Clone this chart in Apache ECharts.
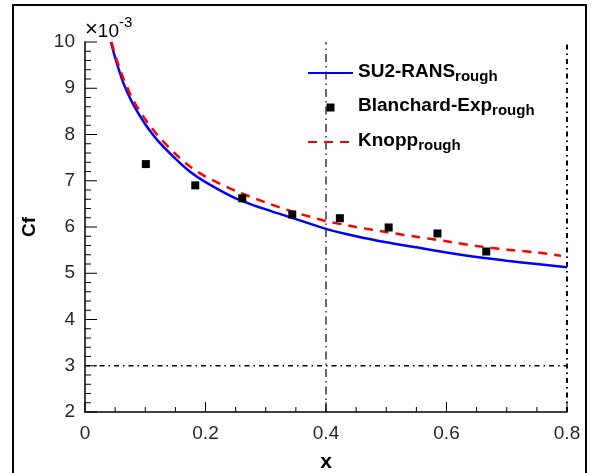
<!DOCTYPE html>
<html><head><meta charset="utf-8">
<script src="https://cdn.jsdelivr.net/npm/echarts@6/dist/echarts.min.js"></script>
<style>html,body{margin:0;padding:0;background:#fff}#c{width:594px;height:473px}</style>
</head><body><div id="c"></div>
<script>
// SU2-RANS rough (x, Cf*1e3)
const su2X = [0.043,0.05,0.057,0.065,0.08,0.1,0.12,0.15,0.175,0.2,0.25,0.3,0.35,0.4,0.45,0.5,0.55,0.6,0.65,0.7,0.75,0.8];
const su2Y = [10.0,9.66,9.37,9.07,8.65,8.22,7.88,7.48,7.19,6.97,6.62,6.38,6.17,5.96,5.80,5.67,5.56,5.45,5.35,5.27,5.20,5.13];
// Knopp rough
const knoppX = [0.044,0.05,0.057,0.065,0.08,0.1,0.12,0.15,0.175,0.2,0.25,0.3,0.35,0.4,0.45,0.5,0.55,0.6,0.65,0.7,0.75,0.79];
const knoppY = [10.0,9.72,9.45,9.17,8.74,8.33,7.99,7.58,7.30,7.09,6.78,6.53,6.31,6.13,6.00,5.89,5.79,5.69,5.59,5.51,5.45,5.38];
// Blanchard experiment rough
const expX = [0.101,0.183,0.261,0.344,0.423,0.504,0.585,0.666];
const expY = [7.36,6.90,6.62,6.27,6.19,5.99,5.86,5.47];
// reference lines
const hRefX = [0, 0.8], hRefY = [3, 3];
const vRefX = [0.4, 0.4], vRefY = [2, 10];
const rRefX = [0.8, 0.8], rRefY = [2, 10];
const xTicks = [0, 0.2, 0.4, 0.6, 0.8];
const yTicks = [2, 3, 4, 5, 6, 7, 8, 9, 10];
const xMinorSplit = 4, yMinorSplit = 5;

const zip = (a, b) => a.map((v, i) => [v, b[i]]);
const font = 'Liberation Sans, Arial, sans-serif';
const xMin = xTicks[0], xMax = xTicks[xTicks.length - 1];
const yMin = yTicks[0], yMax = yTicks[yTicks.length - 1];
const minors = (t, n) => { const out = []; for (let i = 0; i < t.length - 1; i++) for (let k = 1; k < n; k++) out.push(t[i] + (t[i + 1] - t[i]) * k / n); return out; };

// inward-pointing tick marks placed through the axes' own scales
const tickSeries = (vals, isX, len) => ({
  type: 'custom', silent: true, clip: false, z: 5,
  data: vals.map(v => isX ? [v, yMin] : [xMin, v]),
  renderItem: (params, api) => {
    const p = api.coord([api.value(0), api.value(1)]);
    return {type: 'line', shape: isX ? {x1: p[0], y1: p[1], x2: p[0], y2: p[1] - len} : {x1: p[0], y1: p[1], x2: p[0] + len, y2: p[1]},
      style: {stroke: '#000', lineWidth: 1}};
  }
});

const chart = echarts.init(document.getElementById('c'), null, {renderer: 'canvas'});
const legendFmt = {
  'SU2-RANS': '{m|SU2-RANS}{s|rough}',
  'Blanchard-Exp': '{m|Blanchard-Exp}{s|rough}',
  'Knopp': '{m|Knopp}{s|rough}'
};
chart.setOption({
  animation: false,
  grid: {left: 85, right: 27, top: 42, bottom: 61, containLabel: false, outerBoundsMode: 'none'},
  xAxis: {
    type: 'value', min: xMin, max: xMax, interval: 0.2,
    name: 'x', nameLocation: 'middle', nameGap: 40,
    nameTextStyle: {fontFamily: font, fontSize: 21, fontWeight: 'bold', color: '#000'},
    axisLine: {show: true, onZero: false, lineStyle: {color: '#000', width: 1.5}},
    axisTick: {show: false}, minorTick: {show: false},
    splitLine: {show: false},
    axisLabel: {fontFamily: font, fontSize: 19, color: '#262626', margin: 12,
      formatter: v => (Math.round(v * 10) / 10).toString()}
  },
  yAxis: {
    type: 'value', min: yMin, max: yMax, interval: 1,
    name: 'Cf', nameLocation: 'middle', nameGap: 46, nameRotate: 90,
    nameTextStyle: {fontFamily: font, fontSize: 19, fontWeight: 'bold', color: '#000'},
    axisLine: {show: true, onZero: false, lineStyle: {color: '#000', width: 1.5}},
    axisTick: {show: false}, minorTick: {show: false},
    splitLine: {show: false},
    axisLabel: {fontFamily: font, fontSize: 19, color: '#262626', margin: 10}
  },
  legend: {
    orient: 'vertical', left: 302, top: 52, itemWidth: 45, itemHeight: 8, itemGap: 7.5,
    itemTextGap: 5,
    data: [{name: 'SU2-RANS'}, {name: 'Blanchard-Exp', icon: 'path://M0,4L0,4M18.5,0h8v8h-8zM45,4L45,4'}, {name: 'Knopp'}],
    formatter: n => legendFmt[n],
    textStyle: {
      rich: {
        m: {fontFamily: font, fontSize: 19, fontWeight: 'bold', color: '#000', lineHeight: 22, verticalAlign: 'top'},
        s: {fontFamily: font, fontSize: 15, fontWeight: 'bold', color: '#000', lineHeight: 18, padding: [12, 0, 0, 0], verticalAlign: 'bottom'}
      }
    }
  },
  graphic: [
    {type: 'rect', shape: {x: 13, y: 5, width: 573, height: 480}, style: {fill: 'none', stroke: '#000', lineWidth: 2}, z: 100},
    {type: 'text', left: 85, top: 15, style: {
      text: '{a|×}{b|10}{c|-3}', rich: {
        a: {fontFamily: font, fontSize: 22, color: '#262626', verticalAlign: 'bottom', lineHeight: 26},
        b: {fontFamily: font, fontSize: 19, color: '#262626', verticalAlign: 'bottom', lineHeight: 26},
        c: {fontFamily: font, fontSize: 15, color: '#262626', verticalAlign: 'top', lineHeight: 20}
      }}}
  ],
  series: [
    {name: 'hRef', type: 'line', data: zip(hRefX, hRefY), symbol: 'none', silent: true,
      lineStyle: {color: '#000', width: 1.5, type: [5, 4, 1.5, 4]}, z: 1},
    {name: 'vRef', type: 'line', data: zip(vRefX, vRefY), symbol: 'none', silent: true,
      lineStyle: {color: '#000', width: 1.2, type: [8, 4, 1.5, 4]}, z: 1},
    {name: 'rRef', type: 'line', data: zip(rRefX, rRefY), symbol: 'none', silent: true,
      lineStyle: {color: '#000', width: 2, type: [5, 4, 1.5, 4]}, z: 1},
    tickSeries(yTicks, false, 12),
    tickSeries(minors(yTicks, yMinorSplit), false, 6),
    tickSeries(xTicks, true, 10),
    tickSeries(minors(xTicks, xMinorSplit), true, 5),
    {name: 'SU2-RANS', type: 'line', data: zip(su2X, su2Y), symbol: 'none', smooth: 0.25,
      lineStyle: {color: '#0000ff', width: 2.5}, itemStyle: {color: 'rgba(0,0,0,0)', borderWidth: 0}, z: 3},
    {name: 'Blanchard-Exp', type: 'scatter', data: zip(expX, expY), symbol: 'rect', symbolSize: 8,
      itemStyle: {color: '#000', opacity: 1}, z: 4},
    {name: 'Knopp', type: 'line', data: zip(knoppX, knoppY), symbol: 'none', smooth: 0.25,
      lineStyle: {color: '#ff0000', width: 2.5, type: [9, 7]}, itemStyle: {color: 'rgba(0,0,0,0)', borderWidth: 0}, z: 3}
  ]
});
</script></body></html>
